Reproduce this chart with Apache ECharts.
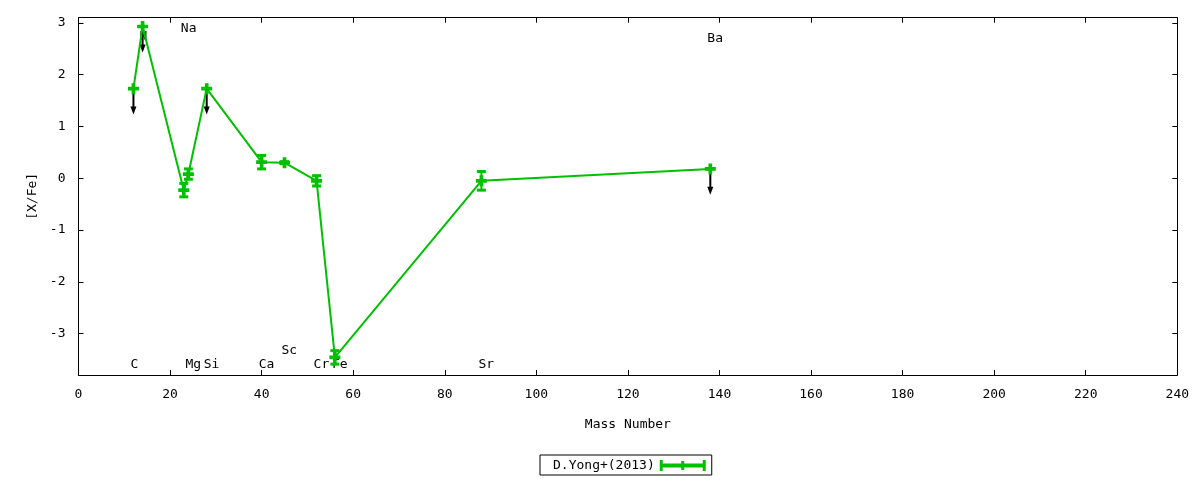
<!DOCTYPE html>
<html>
<head>
<meta charset="utf-8">
<script src="https://cdn.jsdelivr.net/npm/echarts@6/dist/echarts.min.js"></script>
<style>
html,body{margin:0;padding:0;background:#fff;}
#main{width:1200px;height:480px;}
</style>
</head>
<body>
<div id="main"></div>
<script>
/*----------------------------- abundance pattern [X/Fe] vs mass number -----------------------------*/
var elements = ['C','N','Na','Mg','Si','Ca','Sc','Cr','Fe','Sr','Ba'];
var massNum  = [12, 14, 23, 24, 28, 40, 45, 52, 56, 88, 138];
var xfe      = [1.73, 2.93, -0.23, 0.08, 1.73, 0.31, 0.30, -0.05, -3.46, -0.05, 0.18];
var xfeErr   = [0, 0, 0.13, 0.10, 0, 0.13, 0.02, 0.10, 0.13, 0.18, 0];
var upperLim = [1, 1, 0, 0, 1, 0, 0, 0, 0, 0, 1];
var labelY   = [-3.57, 2.77, 2.93, -3.57, -3.57, -3.57, -3.30, -3.57, -3.57, -3.57, 2.73];
var yTicks   = [-3, -2, -1, 0, 1, 2, 3];

var green = '#00c000';
var fontMono = '"DejaVu Sans Mono", "Liberation Mono", monospace';
var arrowLen = 0.5;

var lineData = [], errData = [], limData = [], lblData = [];
for (var i = 0; i < elements.length; i++) {
    lineData.push([massNum[i], xfe[i]]);
    if (xfeErr[i] > 0) errData.push([massNum[i], xfe[i], xfeErr[i]]);
    if (upperLim[i]) limData.push([massNum[i], xfe[i]]);
    lblData.push([massNum[i], labelY[i], elements[i]]);
}

function renderErr(params, api) {
    var x = api.value(0), y = api.value(1), e = api.value(2);
    var top = api.coord([x, y + e]);
    var bot = api.coord([x, y - e]);
    var hw = 4.5;
    return {type: 'group', children: [
        {type: 'line', shape: {x1: top[0], y1: top[1], x2: bot[0], y2: bot[1]}, style: {stroke: green, lineWidth: 2}},
        {type: 'line', shape: {x1: top[0] - hw, y1: top[1], x2: top[0] + hw, y2: top[1]}, style: {stroke: green, lineWidth: 3}},
        {type: 'line', shape: {x1: bot[0] - hw, y1: bot[1], x2: bot[0] + hw, y2: bot[1]}, style: {stroke: green, lineWidth: 3}}
    ]};
}

function renderArrow(params, api) {
    var x = api.value(0), y = api.value(1);
    var p0 = api.coord([x, y]);
    var p1 = api.coord([x, y - arrowLen]);
    return {type: 'group', children: [
        {type: 'line', shape: {x1: p0[0], y1: p0[1], x2: p1[0], y2: p1[1] - 4}, style: {stroke: '#000', lineWidth: 2}},
        {type: 'polygon', shape: {points: [[p1[0] - 3, p1[1] - 8], [p1[0] + 3, p1[1] - 8], [p1[0], p1[1]]]}, style: {fill: '#000'}}
    ]};
}

function renderLabel(params, api) {
    var p = api.coord([api.value(0), api.value(1)]);
    return {type: 'text', x: p[0] - 3, y: p[1] + 2, style: {
        text: elements[params.dataIndex], fill: '#000', font: '13px ' + fontMono,
        align: 'left', verticalAlign: 'middle'
    }};
}

var chart = echarts.init(document.getElementById('main'));

var option = {
    backgroundColor: '#fff',
    animation: false,
    grid: {left: 78.5, right: 22.7, top: 17.7, bottom: 105},
    legend: {
        left: 540, top: 455,
        align: 'right',
        padding: [4, 6, 3, 13],
        borderColor: '#000', borderWidth: 1, borderRadius: 0,
        itemWidth: 46, itemHeight: 11,
        textStyle: {color: '#000', fontFamily: fontMono, fontSize: 13},
        data: [{
            name: 'D.Yong+(2013)',
            icon: 'path://M0,0h3v3.5h40V0h3v11h-3V7.5H3V11H0Z M21.5,1h3v9h-3Z'
        }]
    },
    xAxis: [{
        type: 'value', min: 0, max: 240, interval: 20,
        name: 'Mass Number', nameLocation: 'middle', nameGap: 43,
        nameTextStyle: {color: '#000', fontFamily: fontMono, fontSize: 13},
        axisLine: {onZero: false, lineStyle: {color: '#000', width: 1}},
        axisTick: {inside: true, length: 5, lineStyle: {color: '#000'}},
        axisLabel: {color: '#000', fontFamily: fontMono, fontSize: 13, margin: 13},
        splitLine: {show: false}
    }, {
        type: 'value', position: 'top', min: 0, max: 240, interval: 20,
        axisLine: {onZero: false, lineStyle: {color: '#000', width: 1}},
        axisTick: {inside: true, length: 5, lineStyle: {color: '#000'}},
        axisLabel: {show: false},
        splitLine: {show: false}
    }],
    yAxis: [{
        type: 'value', min: -3.8, max: 3.1,
        name: '[X/Fe]', nameLocation: 'middle', nameGap: 38, nameRotate: 90,
        nameTextStyle: {color: '#000', fontFamily: fontMono, fontSize: 13},
        axisLine: {onZero: false, lineStyle: {color: '#000', width: 1}},
        axisTick: {inside: true, length: 5, lineStyle: {color: '#000'}, customValues: yTicks},
        axisLabel: {color: '#000', fontFamily: fontMono, fontSize: 13, margin: 13, customValues: yTicks},
        splitLine: {show: false}
    }, {
        type: 'value', position: 'right', min: -3.8, max: 3.1,
        axisLine: {onZero: false, lineStyle: {color: '#000', width: 1}},
        axisTick: {inside: true, length: 5, lineStyle: {color: '#000'}, customValues: yTicks},
        axisLabel: {show: false, customValues: yTicks},
        splitLine: {show: false}
    }],
    series: [
        {
            name: 'labels', type: 'custom', renderItem: renderLabel,
            data: lblData, z: 1, silent: true
        },
        {
            name: 'limits', type: 'custom', renderItem: renderArrow,
            data: limData, z: 2, silent: true
        },
        {
            name: 'D.Yong+(2013)', type: 'line',
            data: lineData,
            color: green,
            lineStyle: {color: green, width: 2},
            symbol: 'path://M4,0h4v4h4v4h-4v4h-4v-4h-4v-4h4z',
            symbolSize: 11,
            itemStyle: {color: green},
            z: 3
        },
        {
            name: 'D.Yong+(2013)', type: 'custom', renderItem: renderErr,
            data: errData, z: 4, silent: true
        }
    ]
};

chart.setOption(option);
window.onresize = function () {
    chart.resize();
};
</script>
</body>
</html>
